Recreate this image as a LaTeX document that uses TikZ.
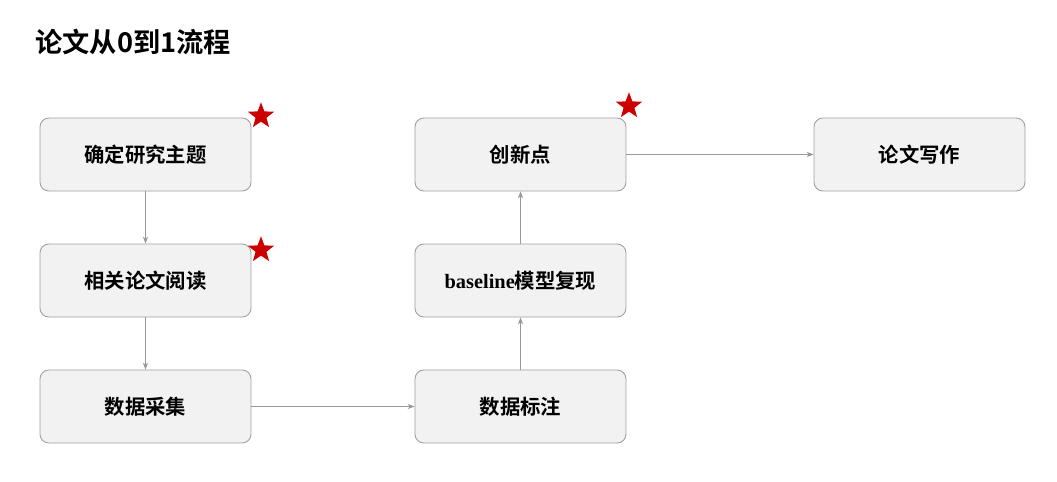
\documentclass[tikz,border=0pt]{standalone}
\usepackage{fontspec}
\setmainfont{Noto Sans CJK SC}[BoldFont={Noto Sans CJK SC Bold}]
\newfontfamily\latserif{Liberation Serif}
\usetikzlibrary{shapes.geometric,arrows.meta}
\begin{document}
\begin{tikzpicture}[x=0.02cm,y=-0.02cm,
  box/.style={draw=gray!75,fill=gray!10,rounded corners=5pt,minimum width=4.22cm,minimum height=1.46cm,font=\fontsize{11.6}{13}\selectfont\bfseries,line width=0.5pt},
  conn/.style={draw=gray!80,line width=0.5pt,-{Stealth[length=4pt,width=3pt]}},
  redstar/.style={star,star points=5,star point ratio=2.4,fill=red!80!black,minimum size=0.55cm,inner sep=0pt}]
\useasboundingbox (0,0) rectangle (1057,481);
\node[anchor=west,font=\fontsize{15.5}{17}\selectfont\bfseries,inner sep=0pt] (title) at (35,42) {论文从0到1流程};
\node[box] (a) at (145.5,154.5) {确定研究主题};
\node[box] (b) at (145.5,280.5) {相关论文阅读};
\node[box] (c) at (145.5,406.5) {数据采集};
\node[box] (d) at (520.5,406.5) {数据标注};
\node[box] (e) at (520.5,280.5) {{\latserif\bfseries baseline}模型复现};
\node[box] (f) at (520.5,154.5) {创新点};
\node[box] (g) at (919.5,154.5) {论文写作};
\node[redstar] (s1) at (261,116) {};
\node[redstar] (s2) at (261,250) {};
\node[redstar] (s3) at (629,106) {};
\draw[conn] (a) -- (b);
\draw[conn] (b) -- (c);
\draw[conn] (c) -- (d);
\draw[conn] (d) -- (e);
\draw[conn] (e) -- (f);
\draw[conn] (f) -- (g);
\end{tikzpicture}
\end{document}
